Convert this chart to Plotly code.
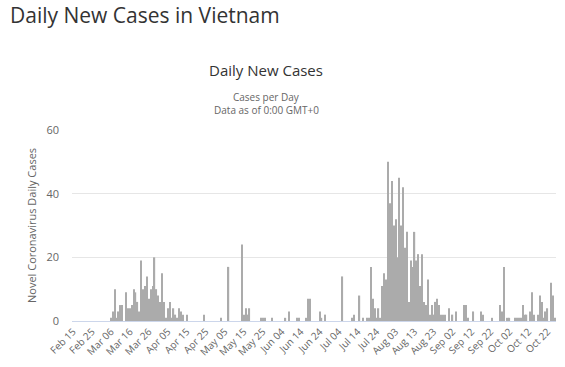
import pandas as pd
import plotly.graph_objects as go

start_date = "2020-02-15"
# daily new cases, one value per day from Feb 15, 2020
daily_cases = [
    0, 0, 0, 0, 0, 0, 0, 0, 0, 0,
    0, 0, 0, 0, 0, 0, 0, 0, 0, 0,
    1, 3, 10, 1, 3, 5, 5, 0, 9, 4,
    4, 5, 10, 9, 6, 3, 19, 10, 11, 14,
    7, 10, 11, 20, 10, 8, 6, 15, 6, 1,
    4, 6, 1, 4, 2, 1, 4, 3, 2, 0,
    2, 0, 0, 0, 0, 0, 0, 0, 0, 2,
    0, 0, 0, 0, 0, 0, 0, 0, 1, 0,
    0, 0, 17, 0, 0, 0, 0, 0, 0, 24,
    2, 4, 2, 4, 0, 0, 0, 0, 0, 1,
    1, 1, 0, 0, 0, 1, 0, 0, 0, 0,
    0, 0, 1, 0, 3, 0, 0, 0, 1, 1,
    0, 0, 0, 1, 7, 7, 0, 0, 0, 0,
    3, 1, 0, 2, 0, 0, 0, 0, 0, 0,
    0, 0, 14, 0, 0, 0, 0, 1, 2, 0,
    0, 8, 0, 1, 0, 1, 1, 17, 7, 4,
    1, 4, 1, 11, 15, 13, 50, 37, 44, 30,
    32, 20, 45, 30, 42, 23, 28, 6, 19, 17,
    28, 19, 21, 11, 21, 6, 5, 13, 2, 5,
    2, 6, 7, 5, 2, 2, 2, 0, 4, 0,
    2, 0, 3, 0, 0, 0, 5, 5, 1, 0,
    0, 3, 0, 0, 0, 3, 2, 0, 0, 0,
    0, 1, 0, 0, 0, 5, 3, 17, 0, 1,
    1, 0, 0, 1, 1, 1, 1, 5, 2, 2,
    0, 3, 9, 2, 0, 2, 8, 6, 1, 3,
    4, 0, 12, 8, 1,
]
y_ticks = [0, 20, 40, 60]

dates = pd.date_range(start_date, periods=len(daily_cases), freq="D")

fig = go.Figure(
    go.Bar(
        x=dates,
        y=daily_cases,
        marker=dict(color="#ababab", line=dict(width=0)),
        hoverinfo="x+y",
    )
)

FONT = "Open Sans, DejaVu Sans, sans-serif"

fig.update_layout(
    width=565,
    height=367,
    margin=dict(l=72, r=9, t=130, b=46),
    paper_bgcolor="white",
    plot_bgcolor="white",
    bargap=0.35,
    showlegend=False,
    font=dict(family=FONT, color="#666666", size=10),
)

fig.update_xaxes(
    type="date",
    automargin=False,
    range=["2020-02-14 12:00", "2020-10-26 12:00"],
    tickmode="linear",
    tick0=start_date,
    dtick=10 * 86400000,
    tickformat="%b %d",
    tickangle=-45,
    tickfont=dict(size=10, color="#666666", family=FONT),
    showgrid=False,
    showline=True,
    linecolor="#ccd6eb",
    linewidth=1,
    ticks="",
    zeroline=False,
)

fig.update_yaxes(
    automargin=False,
    range=[0, 60],
    tickvals=y_ticks,
    tickfont=dict(size=11, color="#666666", family=FONT),
    showgrid=True,
    gridcolor="#e6e6e6",
    gridwidth=1,
    zeroline=False,
    showline=False,
    ticklabelstandoff=12,
)

def py(px):
    return (321 - px) / 191.0

def pxx(px):
    return (px - 72) / 484.0

annotations = [
    dict(text="Daily New Cases in Vietnam", x=pxx(8), y=py(15), xanchor="left",
         yanchor="middle", font=dict(size=21, color="#333333", family=FONT)),
    dict(text="Daily New Cases", x=pxx(266), y=py(70), xanchor="center",
         yanchor="middle", font=dict(size=15, color="#333333", family=FONT)),
    dict(text="Cases per Day", x=pxx(266), y=py(96.5), xanchor="center",
         yanchor="middle", font=dict(size=10, color="#666666", family=FONT)),
    dict(text="Data as of 0:00 GMT+0", x=pxx(266), y=py(110), xanchor="center",
         yanchor="middle", font=dict(size=10, color="#666666", family=FONT)),
    dict(text="Novel Coronavirus Daily Cases", x=pxx(31), y=py(226), xanchor="center",
         yanchor="middle", textangle=-90, font=dict(size=11, color="#666666", family=FONT)),
]
for a in annotations:
    a.update(xref="paper", yref="paper", showarrow=False)
fig.update_layout(annotations=annotations)

fig.write_html(
    "out.html",
    config={"displayModeBar": False},
    post_script="document.body.style.margin='0';document.body.style.overflow='hidden';",
)
